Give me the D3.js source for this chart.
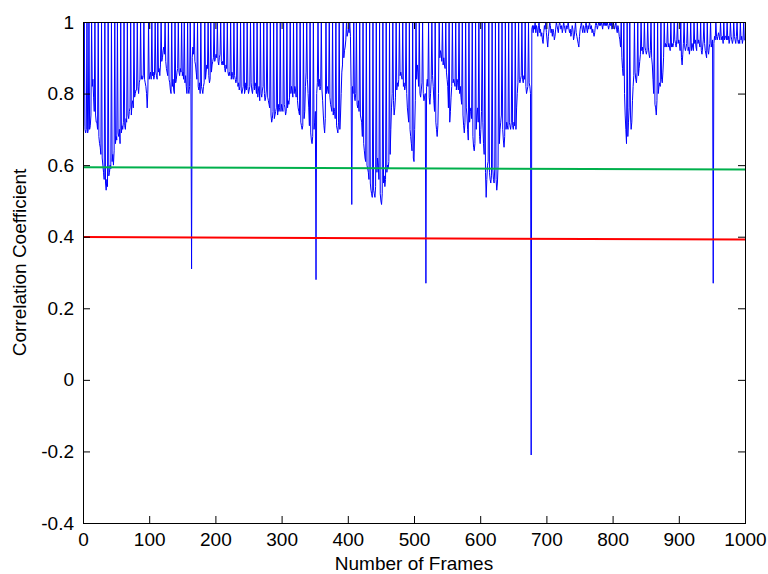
<!DOCTYPE html>
<html>
<head>
<meta charset="utf-8">
<script src="https://cdn.jsdelivr.net/npm/d3@7"></script>
<style>
  body { margin: 0; background: #fff; }
  svg { display: block; }
  text { font-family: "Liberation Sans", Arial, Helvetica, sans-serif; fill: #000; }
</style>
</head>
<body>
<svg id="chart" width="768" height="574"></svg>
<script>
// Frame-by-frame correlation coefficient (frames 1..1000)
const corr = [
  0.71,1,0.70,0.69,0.70,1,0.69,0.70,1,0.70,
  0.71,0.74,1,0.82,0.84,0.79,0.75,1,0.74,0.72,
  0.72,0.70,1,0.68,0.66,0.65,0.63,1,0.62,0.60,
  0.58,0.56,1,0.55,0.53,0.56,0.54,1,0.57,0.58,
  0.60,0.59,1,0.61,0.63,0.60,0.64,1,0.66,0.68,
  0.67,1,0.69,0.68,0.70,0.66,1,0.69,0.71,0.70,
  0.72,1,0.71,0.70,0.73,0.72,1,0.74,0.73,0.75,
  0.76,1,0.74,0.77,0.78,0.76,1,0.79,0.80,0.81,
  0.81,1,0.82,0.80,0.83,0.84,1,0.84,0.85,0.84,
  0.85,1,0.84,0.83,0.82,0.80,0.76,0.81,1,0.84,
  0.85,0.86,0.84,1,0.85,0.86,0.84,0.85,1,0.86,
  0.85,0.84,1,0.86,0.87,0.85,0.88,1,0.89,0.90,
  0.92,0.93,0.91,1,0.89,0.87,0.86,0.85,1,0.84,
  0.83,0.81,0.80,1,0.82,0.84,0.81,0.80,1,0.83,
  0.84,0.86,0.87,1,0.86,0.85,0.87,0.86,1,0.85,
  0.86,0.84,1,0.83,0.85,0.82,0.80,1,0.81,0.80,
  0.82,1,0.84,0.31,0.90,0.93,0.91,1,0.89,0.88,
  0.86,0.84,1,0.82,0.81,0.83,0.80,1,0.82,0.81,
  0.80,0.82,0.83,1,0.84,0.86,0.88,0.87,1,0.85,
  0.83,0.84,1,0.86,0.88,0.89,0.90,1,0.89,0.90,
  0.91,0.90,1,0.89,0.88,0.90,0.91,1,0.89,0.88,
  0.89,0.88,1,0.87,0.86,0.88,0.87,1,0.86,0.85,
  0.86,0.85,1,0.84,0.86,0.85,0.84,1,0.85,0.84,
  0.83,0.84,1,0.82,0.83,0.81,0.82,1,0.81,0.80,
  0.81,0.82,1,0.80,0.81,0.83,0.81,1,0.82,0.80,
  0.81,0.82,1,0.83,0.81,0.80,0.82,1,0.81,0.83,
  0.82,0.80,1,0.79,0.81,0.82,0.78,1,0.80,0.79,
  0.81,0.82,1,0.80,0.78,0.79,0.81,1,0.79,0.78,
  0.77,0.76,1,0.74,0.72,0.73,0.75,1,0.73,0.74,
  0.75,0.76,1,0.74,0.77,0.75,0.76,1,0.75,0.77,
  0.76,0.75,1,0.77,0.76,0.74,0.75,1,0.76,0.78,
  0.77,0.79,1,0.80,0.82,0.81,0.79,1,0.80,0.82,
  0.81,0.79,1,0.78,0.76,0.75,0.74,1,0.72,0.71,
  0.70,0.71,1,0.73,0.75,0.82,0.86,1,0.84,0.80,
  0.76,0.71,1,0.69,0.67,0.66,0.68,1,0.70,0.72,
  0.75,0.28,0.80,0.83,1,0.82,0.84,0.81,0.82,1,
  0.81,0.78,0.74,0.71,0.69,0.73,1,0.80,0.82,0.81,
  0.80,1,0.79,0.77,0.76,0.75,1,0.74,0.76,0.75,
  0.73,1,0.71,0.70,0.69,0.72,1,0.70,0.74,0.80,
  0.86,0.88,1,0.90,0.92,0.93,0.95,1,0.96,0.97,
  0.98,0.97,1,0.96,0.82,0.49,0.82,0.80,1,0.79,
  0.78,0.80,1,0.77,0.76,0.78,0.75,1,0.74,0.73,
  0.72,0.68,1,0.66,0.64,0.62,0.61,1,0.60,0.59,
  0.58,0.56,1,0.55,0.53,0.52,0.51,1,0.53,0.52,
  0.51,0.54,1,0.58,0.62,0.60,0.56,1,0.52,0.50,
  0.49,0.52,1,0.55,0.57,0.54,0.56,1,0.58,0.60,
  0.59,0.61,1,0.63,0.70,0.76,0.80,1,0.78,0.74,
  0.76,0.79,1,0.81,0.83,0.82,0.84,1,0.85,0.86,
  0.85,0.84,1,0.82,0.83,0.81,0.82,1,0.80,0.76,
  0.74,0.72,1,0.70,0.68,0.66,0.64,1,0.62,0.61,
  0.70,0.78,1,0.84,0.88,0.86,0.82,1,0.80,0.79,
  0.81,0.83,1,0.80,0.78,0.79,0.80,0.27,0.82,0.84,
  0.82,1,0.79,0.77,0.80,0.84,1,0.85,0.82,0.78,
  0.75,1,0.72,0.70,0.68,0.71,0.80,1,0.90,0.92,
  0.91,0.89,1,0.88,0.90,0.88,0.87,1,0.86,0.84,
  0.82,0.76,1,0.72,0.75,0.79,0.82,1,0.83,0.84,
  0.83,0.82,1,0.81,0.84,0.83,0.81,1,0.80,0.82,
  0.79,0.77,1,0.74,0.71,0.69,0.72,1,0.76,0.74,
  0.70,0.67,1,0.72,0.75,0.76,0.73,1,0.68,0.65,
  0.64,0.66,1,0.70,0.74,0.76,0.72,1,0.68,0.66,
  0.70,0.75,1,0.72,0.66,0.63,1,0.58,0.51,0.56,
  0.60,0.61,1,0.58,0.56,0.55,0.57,1,0.59,0.56,
  0.55,0.59,1,0.56,0.53,0.55,0.60,1,0.66,0.70,
  0.72,0.74,1,0.70,0.67,0.65,0.68,1,0.70,0.72,
  0.71,0.70,1,0.72,0.71,0.70,0.72,1,0.71,0.70,
  0.72,0.71,1,0.70,0.76,0.80,0.83,1,0.84,0.83,
  0.84,0.85,1,0.84,0.83,0.85,0.84,1,0.82,0.80,
  0.81,0.82,1,0.83,0.82,0.80,-0.21,0.98,0.99,0.97,
  0.99,0.98,1,0.97,0.99,0.98,0.96,0.99,1,0.97,
  0.98,0.96,0.97,0.95,0.94,0.97,0.99,0.98,1,0.97,
  0.95,0.93,0.96,0.98,1,0.99,0.97,0.98,0.96,0.98,
  0.97,0.95,0.96,0.98,1,0.99,0.98,0.97,0.99,1,
  0.99,0.98,0.99,0.97,0.98,1,0.99,0.98,0.97,0.99,
  0.98,0.99,1,0.98,0.97,0.98,0.96,0.97,0.99,0.98,
  0.95,0.96,0.98,1,0.97,0.96,0.95,0.94,0.93,0.96,
  0.98,0.99,1,0.98,0.97,0.99,0.98,0.97,0.99,1,
  0.98,0.97,0.99,0.98,1,0.99,0.98,0.99,0.97,0.98,
  0.97,0.96,0.97,0.99,1,0.99,0.98,0.99,1,0.99,
  1,0.99,1,0.99,0.98,1,0.99,1,0.99,1,
  0.99,1,0.99,0.98,0.99,1,0.99,1,0.98,0.99,
  1,0.99,0.98,0.99,1,0.98,0.97,0.99,0.98,0.96,
  0.95,0.93,1,0.90,0.87,0.85,1,0.80,0.74,0.70,
  0.66,1,0.68,0.72,0.76,1,0.74,0.70,0.72,0.78,
  0.82,0.85,1,0.86,0.84,0.83,0.86,1,0.85,0.87,
  0.89,0.91,1,0.92,0.93,0.91,0.92,1,0.93,0.92,
  0.91,0.92,1,0.93,0.91,0.90,0.92,1,0.90,0.88,
  0.84,0.80,1,0.77,0.76,0.74,0.78,1,0.80,0.82,
  0.83,0.82,1,0.84,0.83,0.86,0.90,1,0.93,0.94,
  0.93,0.94,1,0.93,0.94,0.93,0.92,1,0.93,0.94,
  0.93,0.94,1,0.95,0.94,0.93,0.95,1,0.94,0.95,
  0.94,0.92,1,0.90,0.88,0.91,0.94,1,0.93,0.92,
  0.93,0.94,1,0.92,0.93,0.91,0.93,1,0.92,0.94,
  0.93,0.92,1,0.94,0.95,0.93,0.92,1,0.94,0.95,
  0.94,0.93,1,0.92,0.91,0.93,0.95,1,0.94,0.92,
  0.91,0.90,1,0.92,0.91,0.93,0.94,1,0.93,0.94,
  0.95,0.27,0.94,0.96,0.95,1,0.96,0.95,0.96,0.97,
  0.96,0.95,1,0.96,0.95,0.96,0.94,1,0.95,0.96,
  0.96,0.95,1,0.95,0.96,0.94,0.95,1,0.96,0.95,
  0.94,0.95,1,0.96,0.95,0.94,0.96,1,0.95,0.94,
  0.95,0.94,1,0.95,0.96,0.94,0.95,1,0.95,0.95
];

// Threshold lines, given at the first and last frame
const thresholdFrames = [0, 1000];
const upperThreshold = [0.594, 0.588];
const lowerThreshold = [0.399, 0.392];

// Axis ticks
const xTicks = [0, 100, 200, 300, 400, 500, 600, 700, 800, 900, 1000];
const xTickLabels = ["0", "100", "200", "300", "400", "500", "600", "700", "800", "900", "1000"];
const yTicks = [-0.4, -0.2, 0, 0.2, 0.4, 0.6, 0.8, 1];
const yTickLabels = ["-0.4", "-0.2", "0", "0.2", "0.4", "0.6", "0.8", "1"];

const xTitle = "Number of Frames";
const yTitle = "Correlation Coefficient";

const W = 768, H = 574;
const plot = { left: 83, right: 745, top: 22, bottom: 523 };
const fontSize = 19;

const svg = d3.select("#chart");
svg.append("rect").attr("width", W).attr("height", H).attr("fill", "#fff");

const x = d3.scaleLinear().domain([0, 1000]).range([plot.left, plot.right]);
const y = d3.scaleLinear().domain([-0.4, 1]).range([plot.bottom, plot.top]);

const series = corr.map((v, i) => ({ frame: i + 1, value: v }));

// Correlation trace
const line = d3.line().x(d => x(d.frame)).y(d => y(d.value));
svg.append("path")
  .datum(series)
  .attr("fill", "none")
  .attr("stroke", "#0000ff")
  .attr("stroke-width", 1)
  .attr("stroke-linejoin", "miter")
  .attr("d", line);

// Threshold lines
const thLine = d3.line().x(d => x(d[0])).y(d => y(d[1]));
svg.append("path")
  .datum(d3.zip(thresholdFrames, upperThreshold))
  .attr("fill", "none").attr("stroke", "#00b04c").attr("stroke-width", 2)
  .attr("d", thLine);
svg.append("path")
  .datum(d3.zip(thresholdFrames, lowerThreshold))
  .attr("fill", "none").attr("stroke", "#ff0000").attr("stroke-width", 2)
  .attr("d", thLine);

// Axes with inward ticks, mirrored on the top and right edges
const tickLen = 7;
const xAxis = d3.axisBottom(x).tickValues(xTicks)
  .tickFormat((d, i) => xTickLabels[i]).tickSizeInner(-tickLen).tickSizeOuter(0).tickPadding(10);
const yAxis = d3.axisLeft(y).tickValues(yTicks)
  .tickFormat((d, i) => yTickLabels[i]).tickSizeInner(-tickLen).tickSizeOuter(0).tickPadding(9);

const gx = svg.append("g").attr("transform", `translate(0,${plot.bottom})`).call(xAxis);
const gy = svg.append("g").attr("transform", `translate(${plot.left},0)`).call(yAxis);
const gxTop = svg.append("g").attr("transform", `translate(0,${plot.top})`)
  .call(d3.axisTop(x).tickValues(xTicks).tickFormat("").tickSizeInner(-tickLen).tickSizeOuter(0));
const gyRight = svg.append("g").attr("transform", `translate(${plot.right},0)`)
  .call(d3.axisRight(y).tickValues(yTicks).tickFormat("").tickSizeInner(-tickLen).tickSizeOuter(0));

[gx, gy, gxTop, gyRight].forEach(g => {
  g.select(".domain").remove();
  g.selectAll(".tick line").attr("stroke", "#000").attr("stroke-width", 1);
  g.selectAll("text").style("font-size", fontSize + "px").attr("fill", "#000");
});

// Axes box
svg.append("rect")
  .attr("x", plot.left + 0.5).attr("y", plot.top + 0.5)
  .attr("width", plot.right - plot.left).attr("height", plot.bottom - plot.top)
  .attr("fill", "none").attr("stroke", "#000").attr("stroke-width", 1);

// Axis titles
svg.append("text")
  .attr("x", (plot.left + plot.right) / 2).attr("y", 570)
  .attr("text-anchor", "middle").style("font-size", fontSize + "px")
  .text(xTitle);
svg.append("text")
  .attr("transform", `translate(26,${(plot.top + plot.bottom) / 2 - 10}) rotate(-90)`)
  .attr("text-anchor", "middle").style("font-size", fontSize + "px")
  .text(yTitle);
</script>
</body>
</html>
